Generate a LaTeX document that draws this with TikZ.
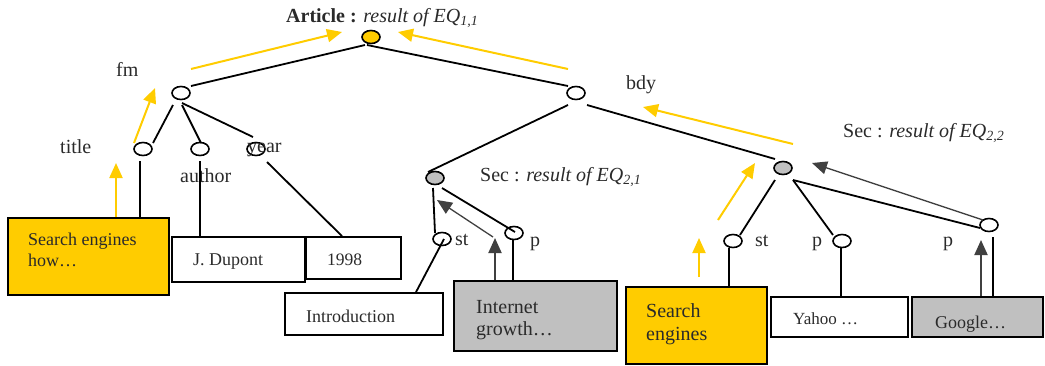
\documentclass[tikz,border=0pt]{standalone}
\usepackage{fontspec}
\setmainfont{Liberation Serif}
\usetikzlibrary{arrows.meta,shapes.geometric,calc}
\definecolor{gold}{HTML}{FFCC00}
\definecolor{shade}{HTML}{C0C0C0}
\definecolor{ink}{HTML}{404040}
\definecolor{txt}{HTML}{2A2A2A}
% stacked lines, baseline on the first one
\newcommand\stacklines[1]{\begin{tabular}[t]{@{}l@{}}#1\end{tabular}}

\begin{document}
\begin{tikzpicture}[x=1pt,y=-1pt,
  vert/.style={ellipse,draw,line width=1.6pt,minimum width=18pt,minimum height=13pt,inner sep=0pt,fill=white},
  lbl/.style={font=\fontsize{20}{22}\selectfont,text=txt,inner sep=0pt,anchor=base west},
  leaf/.style={draw,line width=1.8pt,inner sep=0pt},
  leaftext/.style={text=txt,inner sep=0pt,anchor=base west},
  edge/.style={line width=1.8pt},
  up/.style={draw=gold,line width=2pt,-{Triangle[length=15pt,width=13pt]}},
  back/.style={draw=ink,line width=1.3pt,-{Triangle[length=15pt,width=13pt]}},
  backup/.style={draw=ink,line width=2pt,-{Triangle[length=15pt,width=13pt]}}
]
\useasboundingbox (0,0) rectangle (1045,365);

% tree vertices
\node[vert,fill=gold]  (root)   at (371,37)  {};
\node[vert]            (fm)     at (181,93)  {};
\node[vert]            (bdy)    at (576,93)  {};
\node[vert]            (title)  at (143,149) {};
\node[vert]            (author) at (200,149) {};
\node[vert]            (year)   at (256,149) {};
\node[vert,fill=shade] (sec1)   at (435,178) {};
\node[vert]            (st1)    at (442,239) {};
\node[vert]            (p1)     at (514,233) {};
\node[vert,fill=shade] (sec2)   at (783,168) {};
\node[vert]            (st2)    at (733,241) {};
\node[vert]            (p2)     at (842,241) {};
\node[vert]            (p3)     at (989,225) {};

% leaf boxes
\node[leaf,fill=gold,minimum width=161pt,minimum height=77pt] (btitle)  at (88.5,256.5) {};
\node[leaf,minimum width=133pt,minimum height=45pt]           (bauthor) at (238.5,259.5) {};
\node[leaf,minimum width=95pt,minimum height=42pt]            (byear)   at (353.5,258) {};
\node[leaf,minimum width=158pt,minimum height=42pt]           (bintro)  at (364,314) {};
\node[leaf,fill=shade,minimum width=163pt,minimum height=70pt] (binet)  at (535.5,316) {};
\node[leaf,fill=gold,minimum width=141pt,minimum height=77pt] (bse)     at (696.5,325.5) {};
\node[leaf,minimum width=137pt,minimum height=40pt]           (byahoo)  at (839.5,317) {};
\node[leaf,fill=shade,minimum width=131pt,minimum height=40pt] (bgoogle) at (977.5,317) {};

% leaf contents
\node[leaftext,font=\fontsize{18}{21}\selectfont] (ttitle)  at (28,245)  {\stacklines{Search engines\\how\ldots}};
\node[leaftext,font=\fontsize{18}{20}\selectfont] (tauthor) at (193,265) {J. Dupont};
\node[leaftext,font=\fontsize{17.5}{20}\selectfont] (tyear) at (327,265) {1998};
\node[leaftext,font=\fontsize{18}{20}\selectfont] (tintro)  at (306,322) {Introduction};
\node[leaftext,font=\fontsize{20}{22}\selectfont] (tinet)   at (476,313) {\stacklines{Internet\\growth\ldots}};
\node[leaftext,font=\fontsize{20}{23}\selectfont] (tse)     at (646,317) {\stacklines{Search\\engines}};
\node[leaftext,font=\fontsize{17}{20}\selectfont] (tyahoo)  at (793,324) {Yahoo \ldots};
\node[leaftext,font=\fontsize{18}{20}\selectfont] (tgoogle) at (935,328) {Google\ldots};

% labels
\node[lbl] (lroot) at (286,22) {\textbf{Article :} \textit{result of EQ}\textsubscript{\textit{1,1}}};
\node[lbl] (lfm)     at (116,76)  {fm};
\node[lbl] (ltitle)  at (60,153)  {title};
\node[lbl] (lauthor) at (180,182) {author};
\node[lbl] (lyear)   at (247,152) {year};
\node[lbl] (lbdy)    at (626,89)  {bdy};
\node[lbl] (lsec1)   at (480,181) {Sec : \textit{result of EQ}\textsubscript{\textit{2,1}}};
\node[lbl] (lsec2)   at (843,137) {Sec : \textit{result of EQ}\textsubscript{\textit{2,2}}};
\node[lbl] (lst1)    at (455,245) {st};
\node[lbl] (lp1)     at (530,246) {p};
\node[lbl] (lst2)    at (755,246) {st};
\node[lbl] (lp2)     at (812,246) {p};
\node[lbl] (lp3)     at (943,246) {p};

% tree edges
\draw[edge] ($(root)+(-6,8)$) -- ($(fm)+(10,-7)$);
\draw[edge] ($(root)+(-4,8)$) -- ($(bdy)+(-8,-7)$);
\draw[edge] ($(fm)+(-8,12)$) -- ($(title)+(10,-6)$);
\draw[edge] ($(fm)+(1,12)$) -- ($(author)+(1,-6)$);
\draw[edge] ($(fm)+(1,10)$) -- ($(year)+(-3,-12)$);
\draw[edge] ($(bdy)+(-8,12)$) -- ($(sec1)+(-7,-6)$);
\draw[edge] ($(bdy)+(11,12)$) -- ($(sec2)+(-8,-9)$);
\draw[edge] ($(sec1)+(-2,10)$) -- ($(st1)+(-7,-6)$);
\draw[edge] ($(sec1)+(7,10)$) -- ($(p1)+(1,-1)$);
\draw[edge] ($(sec2)+(-8,12)$) -- ($(st2)+(7,-6)$);
\draw[edge] ($(sec2)+(10,12)$) -- ($(p2)+(-9,-6)$);
\draw[edge] ($(sec2)+(10,12)$) -- ($(p3)+(-9,3)$);

% leaves hanging from their vertices
\coordinate (c1) at ($(title)+(-3,12)$);
\coordinate (c2) at ($(author)+(0,12)$);
\coordinate (c3) at ($(p1)+(-1,6)$);
\coordinate (c4) at ($(st2)+(-4,7)$);
\coordinate (c5) at ($(p2)+(-1,7)$);
\coordinate (c6) at ($(p3)+(4,12)$);
\draw[edge] (c1) -- (c1 |- btitle.north);
\draw[edge] (c2) -- (c2 |- bauthor.north);
\draw[edge] (c3) -- (c3 |- binet.north);
\draw[edge] (c4) -- (c4 |- bse.north);
\draw[edge] (c5) -- (c5 |- byahoo.north);
\draw[edge] (c6) -- (c6 |- bgoogle.north);
\draw[edge] ($(year)+(11,13)$) -- ($(byear.north)+(-11.5,0)$);
\draw[edge] ($(st1)+(2,0)$) -- ($(bintro.north)+(52,0)$);

% propagation of results (gold)
\coordinate (y1) at (116,163);
\draw[up] (y1 |- btitle.north) -- (y1);
\draw[up] ($(title)+(-9,-6)$) -- (155,88) coordinate (y2);
\draw[up] (191,69) -- (342,32) coordinate (y3);
\draw[up] (568,69) -- (398,32) coordinate (y4);
\draw[up] (793,144) -- (643,107) coordinate (y5);
\draw[up] (718,220) -- (755,163) coordinate (y6);
\draw[up] (699,277) -- (699,238) coordinate (y7);

% propagation of results (grey)
\coordinate (g2) at (495,238);
\draw[backup] (g2 |- binet.north) -- (g2);
\draw[back] (493,237) -- (437,200) coordinate (g1);
\coordinate (g4) at (981,240);
\draw[backup] (g4 |- bgoogle.north) -- (g4);
\draw[back] (983,220) -- (812,163) coordinate (g3);
\end{tikzpicture}
\end{document}
